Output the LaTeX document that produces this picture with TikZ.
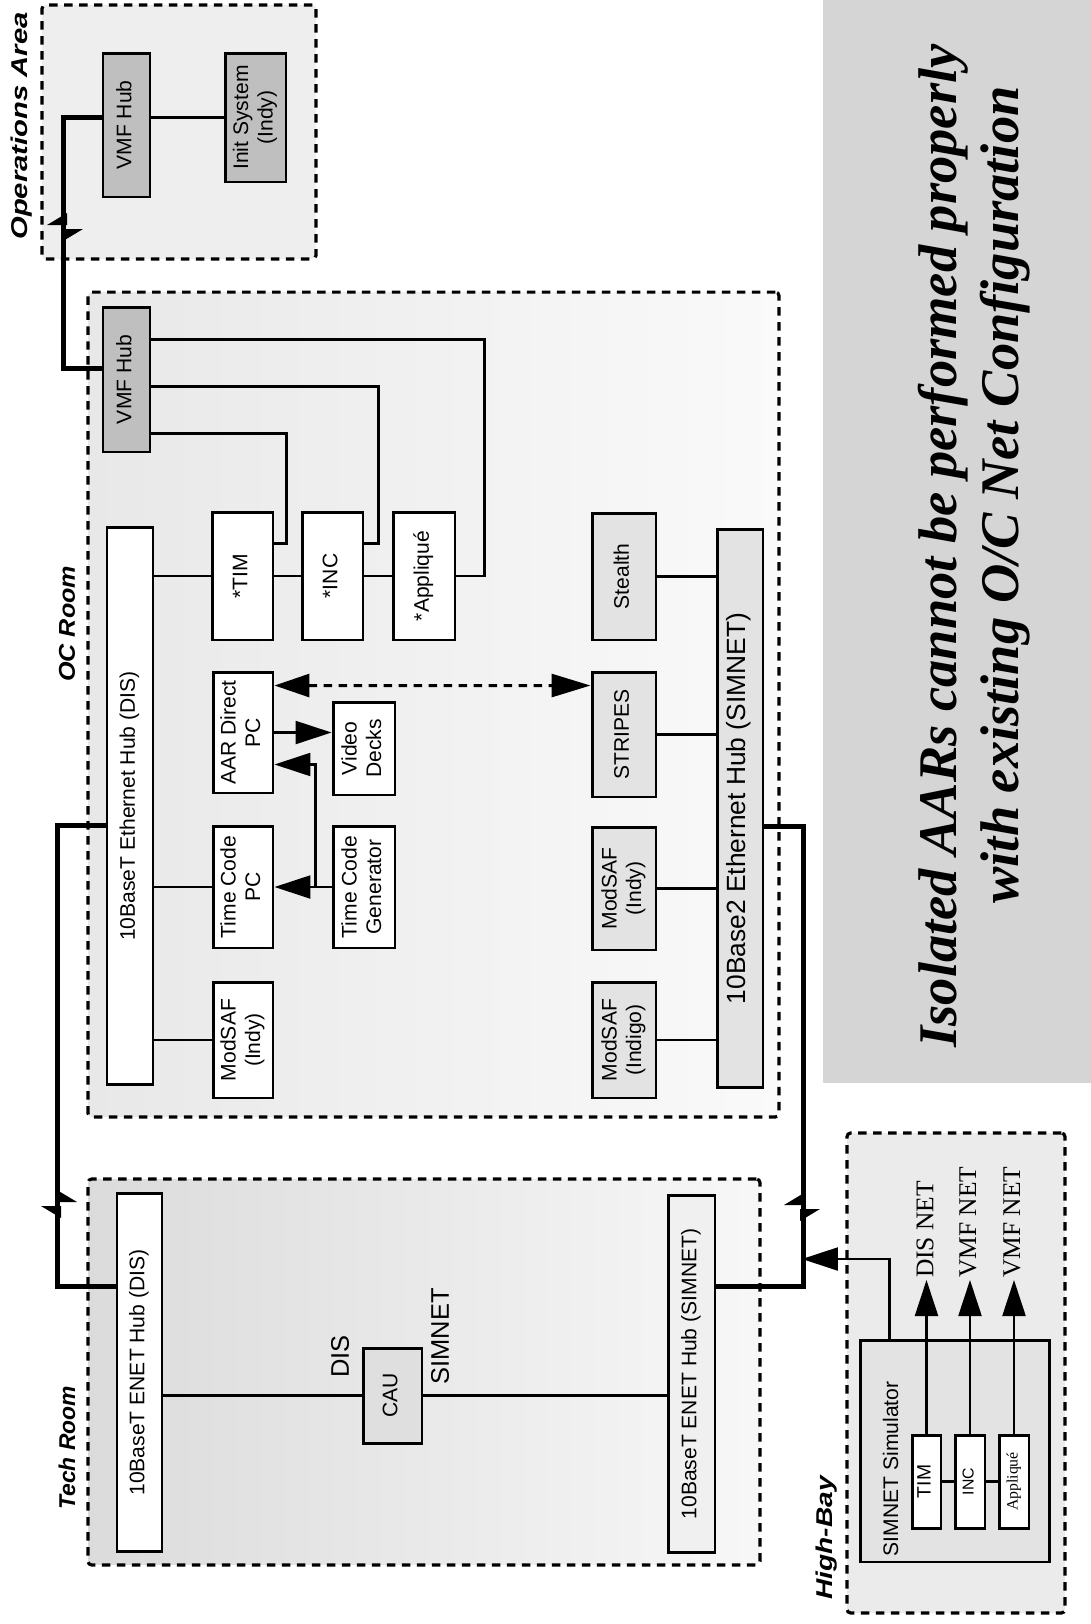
\documentclass[tikz,border=0pt]{standalone}
\usepackage{fontspec}
\setmainfont{Liberation Serif}
\setsansfont{Liberation Sans}
\usetikzlibrary{positioning,arrows.meta,calc}

\newcommand{\vtxt}[1]{\rotatebox{90}{\begin{tabular}{@{}c@{}}#1\end{tabular}}}

\begin{document}
\begin{tikzpicture}[
  x=0.02cm, y=-0.02cm,
  region/.style={draw,line width=1.8pt,dash pattern=on 0.17cm off 0.13cm,rounded corners=2pt,inner sep=0pt},
  box/.style={rectangle,draw,line width=1.7pt,fill=#1,inner sep=0pt,font=\sffamily\fontsize{12}{14}\selectfont},
  box/.default=white,
  link/.style={line width=1.3pt},
  trunk/.style={line width=3pt},
  arr/.style={line width=1.3pt,-{Triangle[length=0.72cm,width=0.46cm]}},
  dasharr/.style={line width=1.7pt,dash pattern=on 0.17cm off 0.13cm,{Triangle[length=0.7cm,width=0.46cm]}-{Triangle[length=0.78cm,width=0.46cm]}},
  hdr/.style={rotate=90,anchor=west,inner sep=0pt,font=\sffamily\bfseries\itshape\fontsize{13}{15}\selectfont},
  lbl/.style={rotate=90,anchor=west,inner sep=0pt,font=\sffamily\fontsize{14.5}{16}\selectfont},
  netlbl/.style={rotate=90,anchor=west,inner sep=1pt,font=\rmfamily\fontsize{14.5}{16}\selectfont},
  msgline/.style={rotate=90,anchor=base,inner sep=0pt,font=\bfseries\itshape\fontsize{31}{36}\selectfont},
  brk/.pic={\fill (2,-14) -- (-18,-2) -- (2,-2) -- cycle;
            \fill (-2,14) -- (18,2) -- (-2,2) -- cycle;},
]
\useasboundingbox (0,0) rectangle (1091,1624);

% === OPERATIONS AREA ===
\node[region,fill=gray!13,minimum width=5.48cm,minimum height=5.08cm] (opsarea) at (179,132) {};
\node[hdr] at (22,240) {\scalebox{1.28}[1]{Operations Area}};

\node[box=gray!50,minimum width=0.94cm,minimum height=2.88cm] (opsvmf) at (126.5,125) {\vtxt{VMF Hub}};
\node[box=gray!50,minimum width=1.22cm,minimum height=2.58cm] (init) at (255.5,117.5) {\vtxt{Init System\\(Indy)}};
\draw[link] (opsvmf.east |- init.west) -- (init.west);

% === OC ROOM ===
\node[region,left color=gray!18,right color=gray!4,minimum width=13.82cm,minimum height=16.5cm] (ocroom) at (433.5,704.5) {};
\node[hdr] at (67,682) {\scalebox{1.1}[1]{OC Room}};

\node[box=gray!50,minimum width=0.94cm,minimum height=2.9cm] (ocvmf) at (126.5,379.5) {\vtxt{VMF Hub}};
\node[box,minimum width=0.92cm,minimum height=11.16cm] (dishub) at (130,806) {\vtxt{10BaseT Ethernet Hub (DIS)}};

\node[box,minimum width=1.22cm,minimum height=2.56cm] (tim) at (242.5,576) {\vtxt{*TIM}};
\node[box,minimum width=1.22cm,minimum height=2.56cm] (inc) at (332.5,576) {\vtxt{*INC}};
\node[box,minimum width=1.24cm,minimum height=2.56cm] (appl) at (424,576) {\vtxt{*Appliqué}};

\node[box,minimum width=1.2cm,minimum height=2.42cm] (aar) at (243,732.5) {\vtxt{AAR Direct\\PC}};
\node[box,minimum width=1.24cm,minimum height=1.86cm] (video) at (364,748.5) {\vtxt{Video\\Decks}};
\node[box,minimum width=1.2cm,minimum height=2.44cm] (tcpc) at (243,887) {\vtxt{Time Code\\PC}};
\node[box,minimum width=1.24cm,minimum height=2.44cm] (tcgen) at (364,887) {\vtxt{Time Code\\Generator}};
\node[box,minimum width=1.2cm,minimum height=2.32cm] (modsafa) at (243,1040) {\vtxt{ModSAF\\(Indy)}};

\node[box=gray!22,minimum width=1.28cm,minimum height=2.54cm] (stealth) at (624,576.5) {\vtxt{Stealth}};
\node[box=gray!22,minimum width=1.28cm,minimum height=2.5cm] (stripes) at (624,734.5) {\vtxt{STRIPES}};
\node[box=gray!22,minimum width=1.28cm,minimum height=2.46cm] (modsafb) at (624,888.5) {\vtxt{ModSAF\\(Indy)}};
\node[box=gray!22,minimum width=1.28cm,minimum height=2.32cm] (modsafc) at (624,1040) {\vtxt{ModSAF\\(Indigo)}};
\node[box=gray!22,minimum width=0.92cm,minimum height=11.18cm,font=\sffamily\fontsize{15}{17}\selectfont] (simhub) at (740,808.5) {\vtxt{10Base2 Ethernet Hub (SIMNET)}};

% DIS hub links
\draw[link] (dishub.east |- tim.west) -- (tim.west);
\draw[link] (tim) -- (inc);
\draw[link] (inc) -- (appl);
\draw[link] (dishub.east |- tcpc.west) -- (tcpc.west);
\draw[link] (dishub.east |- modsafa.west) -- (modsafa.west);

% VMF hub links
\draw[link] ($(tim.north east)+(0,33)$) -- ++(12,0) |- ($(ocvmf.north east)+(0,128)$);
\draw[link] ($(inc.north east)+(0,33)$) -- ++(14,0) |- ($(ocvmf.north east)+(0,81)$);
\draw[link] (appl.east) -- ++(28,0) |- ($(ocvmf.north east)+(0,34)$);

% time code and video
\draw[arr] (tcgen.west) -- (tcpc.east);
\coordinate (tcsplit) at ($(tcgen.west)+(-16,0)$);
\draw[arr] (tcsplit) |- ($(aar.south east)+(0,-30)$);
\draw[arr] (aar.east) -- (aar.east -| video.west);
\draw[dasharr] ($(aar.north east)+(0,15)$) -- ($(stripes.north west)+(0,15)$);

% SIMNET hub links
\draw[link] (stealth.east) -- (stealth.east -| simhub.west);
\draw[link] (stripes.east) -- (stripes.east -| simhub.west);
\draw[link] (modsafb.east) -- (modsafb.east -| simhub.west);
\draw[link] (modsafc.east) -- (modsafc.east -| simhub.west);

% === TECH ROOM ===
\node[region,left color=gray!28,right color=gray!6,minimum width=13.44cm,minimum height=7.72cm] (techroom) at (424,1372) {};
\node[hdr] at (67,1510) {Tech Room};

\node[box,minimum width=0.9cm,minimum height=7.18cm] (techdis) at (139.5,1372.5) {\vtxt{10BaseT ENET Hub (DIS)}};
\node[box=gray!25,minimum width=1.18cm,minimum height=1.9cm] (cau) at (392.5,1395.5) {\vtxt{CAU}};
\node[box=gray!12,minimum width=0.94cm,minimum height=7.16cm] (techsim) at (691.5,1374) {\vtxt{10BaseT ENET Hub (SIMNET)}};
\node[lbl] at (340,1378) {DIS};
\node[lbl] at (440,1385) {SIMNET};
\draw[link] (techdis.east |- cau.west) -- (cau.west);
\draw[link] (cau.east) -- (cau.east -| techsim.west);

% === HIGH-BAY ===
\node[region,fill=gray!16,minimum width=4.36cm,minimum height=9.6cm] (highbay) at (956,1373) {};
\node[hdr] at (827,1600) {\scalebox{1.23}[1]{High-Bay}};

\node[box=gray!22,minimum width=3.8cm,minimum height=4.44cm] (simnet) at (955,1451) {};
\node[rotate=90,anchor=west,inner sep=0pt,font=\sffamily\fontsize{12}{14}\selectfont] at ($(simnet.south west)+(32,-7)$) {SIMNET Simulator};
\node[box,minimum width=0.58cm,minimum height=1.86cm,font=\sffamily\fontsize{11}{12}\selectfont] (hbtim) at (926.5,1481.5) {\vtxt{TIM}};
\node[box,minimum width=0.6cm,minimum height=1.86cm,font=\sffamily\fontsize{9}{10}\selectfont] (hbinc) at (970,1481.5) {\vtxt{INC}};
\node[box,minimum width=0.6cm,minimum height=1.86cm,font=\rmfamily\fontsize{9}{10}\selectfont] (hbapp) at (1014,1481.5) {\vtxt{Appliqué}};
\draw[link] (hbtim) -- (hbinc);
\draw[link] (hbinc) -- (hbapp);

\node[netlbl] (disnet) at (925,1280) {DIS NET};
\node[netlbl] (vmfnet1) at (968,1280) {VMF NET};
\node[netlbl] (vmfnet2) at (1012,1280) {VMF NET};
\draw[arr] (hbtim.north) -- (hbtim.north |- disnet.west);
\draw[arr] (hbinc.north) -- (hbinc.north |- vmfnet1.west);
\draw[arr] (hbapp.north) -- (hbapp.north |- vmfnet2.west);

% === TRUNK LINES ===
\draw[trunk] (opsvmf.west |- init.west) -- ++(-38,0) |- ($(ocvmf.north west)+(0,63)$);
\pic at (65,227) {brk};
\draw[trunk] ($(dishub.north west)+(0,300)$) -- ++(-48,0) |- ($(techdis.north west)+(0,95)$);
\pic[xscale=-1] at (59,1204) {brk};
\draw[trunk] ($(simhub.north east)+(0,299)$) -- ++(39,0) |- ($(techsim.north east)+(0,93)$);
\pic at (802,1207) {brk};
\coordinate (rtap) at (802,1259);
\draw[arr] ($(simnet.north west)+(31,0)$) |- (rtap);

% === NOTE ===
\node[fill=gray!33,inner sep=0pt,minimum width=5.36cm,minimum height=21.66cm] (notebg) at (957,541.5) {};
\node[msgline] (msga) at (956,546) {Isolated AARs cannot be performed properly};
\node[msgline] (msgb) at (1018,495) {with existing O/C Net Configuration};

\end{tikzpicture}
\end{document}
